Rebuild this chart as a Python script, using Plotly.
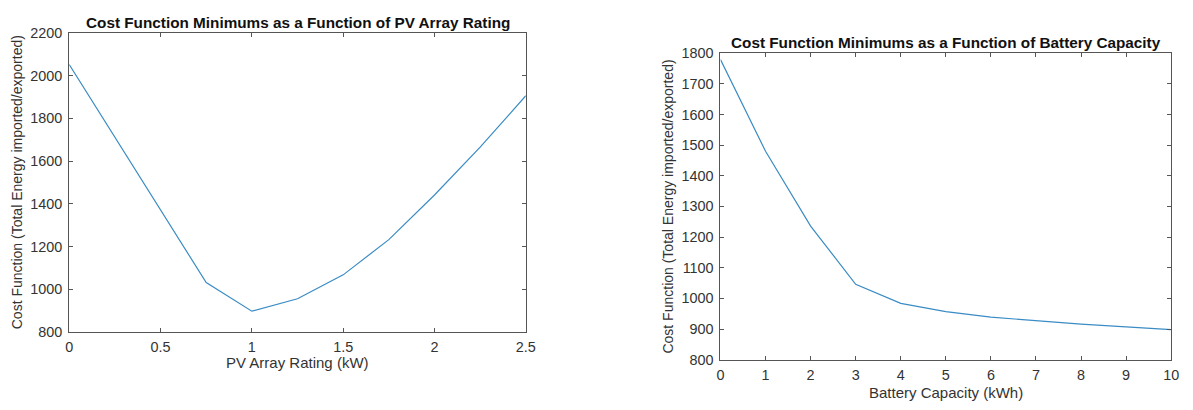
import plotly.graph_objects as go

# PV array sweep: rating (kW) vs. minimum cost function value
pv_rating_kw = [0, 0.25, 0.5, 0.75, 1.0, 1.25, 1.5, 1.75, 2.0, 2.25, 2.5]
pv_cost = [2052, 1710, 1370, 1031, 897, 955, 1067, 1232, 1441, 1665, 1906]

# Battery sweep: capacity (kWh) vs. minimum cost function value
batt_capacity_kwh = [0, 1, 2, 3, 4, 5, 6, 7, 8, 9, 10]
batt_cost = [1779, 1480, 1236, 1046, 984, 957, 939, 927, 916, 907, 898]

pv_xticks = [0, 0.5, 1, 1.5, 2, 2.5]
pv_xticklabels = ["0", "0.5", "1", "1.5", "2", "2.5"]
pv_yticks = [800, 1000, 1200, 1400, 1600, 1800, 2000, 2200]
batt_xticks = list(range(0, 11))
batt_yticks = list(range(800, 1801, 100))

W, H = 1193, 410
LINE = "#3a8cc4"
AXC = "#555555"
TXT = "#333333"
FONT = "Liberation Sans, Arial, Helvetica, sans-serif"

# plot boxes in pixels: (left, right, top, bottom)
box1 = (66, 528, 26, 337)
box2 = (725, 1181, 47, 366)


def xdom(b):
    return [b[0] / W, b[1] / W]


def ydom(b):
    return [1 - b[3] / H, 1 - b[2] / H]


fig = go.Figure()
fig.add_trace(go.Scatter(x=pv_rating_kw, y=pv_cost, mode="lines",
                         line=dict(color=LINE, width=1.2),
                         xaxis="x", yaxis="y", showlegend=False))
fig.add_trace(go.Scatter(x=batt_capacity_kwh, y=batt_cost, mode="lines",
                         line=dict(color=LINE, width=1.2),
                         xaxis="x2", yaxis="y2", showlegend=False))

axis_common = dict(showline=True, linecolor=AXC, linewidth=1, mirror="ticks",
                   ticks="inside", ticklen=4, tickcolor=AXC, showgrid=False,
                   zeroline=False, tickfont=dict(family=FONT, size=14.4, color=TXT))

fig.update_layout(
    width=W, height=H,
    margin=dict(l=0, r=0, t=0, b=0),
    paper_bgcolor="white", plot_bgcolor="white",
    xaxis=dict(domain=xdom(box1), range=[0, 2.5], tickvals=pv_xticks,
               ticktext=pv_xticklabels, anchor="y", ticklabelstandoff=2,
               **axis_common),
    yaxis=dict(domain=ydom(box1), range=[800, 2200], tickvals=pv_yticks,
               anchor="x", ticklabelstandoff=3, **axis_common),
    xaxis2=dict(domain=xdom(box2), range=[0, 10], tickvals=batt_xticks,
                anchor="y2", ticklabelstandoff=2, **axis_common),
    yaxis2=dict(domain=ydom(box2), range=[800, 1800], tickvals=batt_yticks,
                anchor="x2", ticklabelstandoff=3, **axis_common),
)


def label(text, x, y, size=15, bold=False, angle=0, color=TXT):
    fig.add_annotation(text=f"<b>{text}</b>" if bold else text,
                       x=x / W, y=1 - y / H, xref="paper", yref="paper",
                       showarrow=False, textangle=angle,
                       font=dict(family=FONT, size=size, color=color),
                       xanchor="center", yanchor="middle")


# titles
label("Cost Function Minimums as a Function of PV Array Rating",
      (box1[0] + box1[1]) / 2, 15, size=15.3, bold=True, color="#111111")
label("Cost Function Minimums as a Function of Battery Capacity",
      (box2[0] + box2[1]) / 2, 36, size=15.3, bold=True, color="#111111")

# axis titles
label("PV Array Rating (kW)", (box1[0] + box1[1]) / 2, 369)
label("Battery Capacity (kWh)", (box2[0] + box2[1]) / 2, 400)
label("Cost Function (Total Energy imported/exported)", 14,
      (box1[2] + box1[3]) / 2, size=14, angle=-90)
label("Cost Function (Total Energy imported/exported)", 672,
      (box2[2] + box2[3]) / 2, size=14, angle=-90)

fig.write_html("out.html")
